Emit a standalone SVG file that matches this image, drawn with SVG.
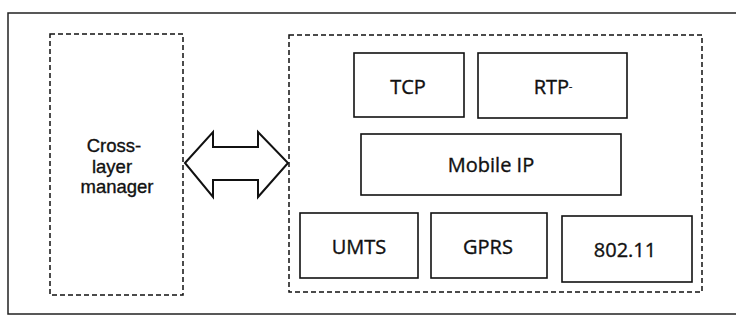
<svg xmlns="http://www.w3.org/2000/svg" width="736" height="322" viewBox="0 0 736 322">
<style>
.frame{fill:none;stroke:#222;stroke-width:1.5}
.dash{fill:none;stroke:#111;stroke-width:1.5;stroke-dasharray:5 3}
.box{fill:#fff;stroke:#111;stroke-width:1.6}
.lbl{font-family:"Open Sans","Noto Sans","Liberation Sans",sans-serif;font-size:20px;fill:#111;stroke:#111;stroke-width:0.35;text-anchor:middle}
.cl{font-family:"Liberation Sans",Arial,sans-serif;font-size:18.5px}
.arrow{fill:#fff;stroke:#111;stroke-width:2;stroke-linejoin:miter}
</style>
<rect width="736" height="322" fill="#fff"/>
<path class="frame" d="M736,13 L8,13 L8,314 L736,314"/>
<g id="cross-layer-manager">
<rect class="dash" x="50" y="34" width="133" height="261"/>
<text class="lbl cl" x="114" y="152">Cross-</text>
<text class="lbl cl" x="112" y="172.5">layer</text>
<text class="lbl cl" x="117" y="193">manager</text>
</g>
<g id="stack">
<rect class="dash" x="289" y="35" width="413" height="257"/>
</g>
<g id="tcp">
<rect class="box" x="354" y="53" width="110" height="64"/>
<text class="lbl" x="408" y="94">TCP</text>
</g>
<g id="rtp">
<rect class="box" x="478" y="53" width="149" height="65"/>
<text class="lbl" x="553" y="94">RTP<tspan font-size="10" dy="-4">-</tspan></text>
</g>
<g id="mobile-ip">
<rect class="box" x="361" y="134" width="260" height="61"/>
<text class="lbl" x="491" y="172">Mobile IP</text>
</g>
<g id="umts">
<rect class="box" x="300" y="213" width="118" height="65"/>
<text class="lbl" x="359" y="254">UMTS</text>
</g>
<g id="gprs">
<rect class="box" x="431" y="213" width="116" height="65"/>
<text class="lbl" x="488" y="254">GPRS</text>
</g>
<g id="wlan">
<rect class="box" x="562" y="216" width="130" height="66"/>
<text class="lbl" x="625" y="257">802.11</text>
</g>
<g id="connectors">
<path class="arrow" d="M185,163 L213,132 L213,147 L258,147 L258,132 L288,163 L258,197 L258,180 L213,180 L213,197 Z"/>
</g>
</svg>
